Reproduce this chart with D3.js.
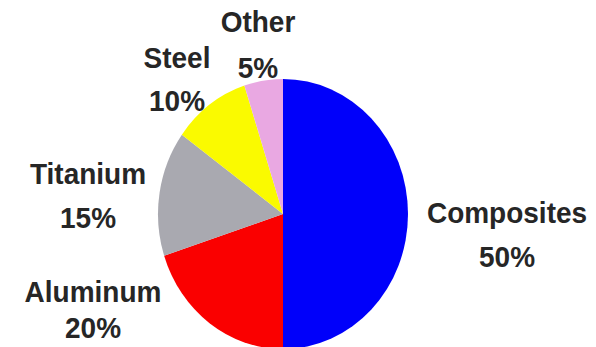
<!DOCTYPE html>
<html>
<head>
    <meta charset="utf-8" />
    <style>
        body { margin: 0; background: #fff; }
        text.label {
            font-family: "Liberation Sans", Arial, sans-serif;
            font-weight: bold;
            font-size: 28px;
            fill: #262626;
        }
    </style>
    <script src="https://d3js.org/d3.v7.min.js"></script>
</head>
<body>
<script>

// data
let materials = ["Composites", "Aluminum", "Titanium", "Steel", "Other"];
let shares = [50, 20, 15, 10, 5];
let colors = ["#0000fa", "#fa0000", "#a9a9b0", "#fafa00", "#e9a8e2"];

// where the two-line labels sit (screen pixels, centre of each line)
let labelPos = [
    { x: 507, y1: 213, y2: 257 },
    { x: 93,  y1: 292, y2: 328 },
    { x: 88,  y1: 174, y2: 218 },
    { x: 177, y1: 58,  y2: 101 },
    { x: 258, y1: 22,  y2: 68 }
];

let W = 596, H = 347;
let sy = 1.08;   // picture is stretched a bit vertically
let cx = 283, cy = 214, r = 125;

let svg = d3.select("body")
    .append("svg")
    .attr("width", W)
    .attr("height", H);

let pie = d3.pie()
    .sort(null)
    .value(d => d);

let arc = d3.arc()
    .innerRadius(0)
    .outerRadius(r);

let g = svg.append("g")
    .attr("transform", "translate(" + cx + "," + cy + ") scale(1," + sy + ")");

g.selectAll("path")
    .data(pie(shares))
    .enter()
    .append("path")
    .attr("d", arc)
    .attr("fill", (d, i) => colors[i]);

// labels
let lab = svg.selectAll("g.lab")
    .data(materials)
    .enter()
    .append("g")
    .attr("class", "lab");

lab.append("text")
    .attr("class", "label")
    .attr("text-anchor", "middle")
    .attr("dominant-baseline", "central")
    .attr("transform", (d, i) => "translate(" + labelPos[i].x + "," + labelPos[i].y1 + ") scale(1," + sy + ")")
    .text(d => d);

lab.append("text")
    .attr("class", "label")
    .attr("text-anchor", "middle")
    .attr("dominant-baseline", "central")
    .attr("transform", (d, i) => "translate(" + labelPos[i].x + "," + labelPos[i].y2 + ") scale(1," + sy + ")")
    .text((d, i) => shares[i] + "%");

</script>
</body>
</html>
